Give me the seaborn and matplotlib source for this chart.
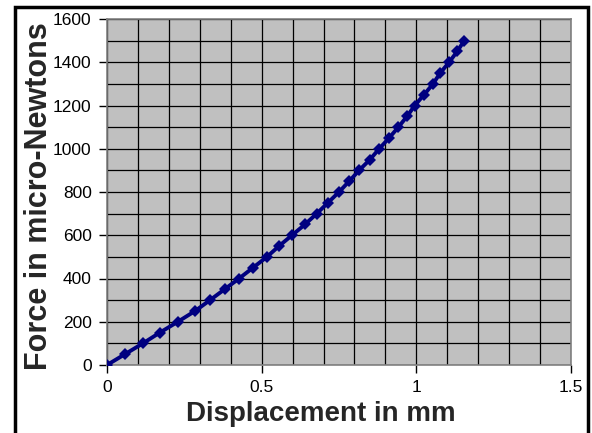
import numpy as np
import pandas as pd
import seaborn as sns
import matplotlib
matplotlib.use("Agg")
from matplotlib import pyplot as plt
from matplotlib.patches import Rectangle
from matplotlib.ticker import MultipleLocator

# datos
desplazamiento = [0, 0.058, 0.116, 0.171, 0.229, 0.285, 0.333, 0.380, 0.427, 0.472,
                  0.517, 0.556, 0.598, 0.640, 0.678, 0.714, 0.750, 0.783, 0.815, 0.850,
                  0.880, 0.912, 0.942, 0.970, 0.995, 1.025, 1.054, 1.077, 1.106, 1.132,
                  1.155]
fuerza = [0, 50, 100, 150, 200, 250, 300, 350, 400, 450,
          500, 550, 600, 650, 700, 750, 800, 850, 900, 950,
          1000, 1050, 1100, 1150, 1200, 1250, 1300, 1350, 1400, 1450,
          1500]

df = pd.DataFrame({"x": desplazamiento, "y": fuerza})

sns.set_style("white")
plt.rcParams["font.family"] = ["Liberation Sans", "DejaVu Sans"]

fig = plt.figure(figsize=(5.92, 4.33), dpi=100)
ax = fig.add_axes([107 / 592, 1 - 365 / 433, (571 - 107) / 592, (365 - 19) / 433])
ax.set_facecolor("#c0c0c0")

sns.lineplot(data=df, x="x", y="y", ax=ax, color="#000080", linewidth=2.8,
             marker="D", markersize=6, markeredgewidth=0, zorder=5)

ax.set_xlim(0, 1.5)
ax.set_ylim(0, 1600)
ax.xaxis.set_major_locator(MultipleLocator(0.5))
ax.xaxis.set_minor_locator(MultipleLocator(0.1))
ax.yaxis.set_major_locator(MultipleLocator(200))
ax.yaxis.set_minor_locator(MultipleLocator(100))
ax.set_xticks([0, 0.5, 1, 1.5])
ax.set_xticklabels(["0", "0.5", "1", "1.5"])

ax.grid(which="both", color="black", linewidth=0.9)
ax.set_axisbelow(True)
ax.tick_params(axis="both", which="major", direction="out", length=6, width=1,
               color="black", labelsize=12.5, pad=5, bottom=True, left=True,
               labelcolor="black")
ax.tick_params(axis="both", which="minor", length=0)

for lado in ["top", "right", "left", "bottom"]:
    ax.spines[lado].set_color("#808080")
    ax.spines[lado].set_linewidth(1.2)

ax.set_xlabel("Displacement in mm", fontsize=20, fontweight="bold")
ax.set_ylabel("Force in micro-Newtons", fontsize=22, fontweight="bold")
ax.xaxis.set_label_coords(0.461, -0.105)
ax.yaxis.set_label_coords(-0.115, 0.488)

# marco negro alrededor de la figura
fig.patches.append(Rectangle((15 / 592, -0.05), (588 - 15) / 592, 1.05 - 7 / 433,
                             transform=fig.transFigure, fill=False,
                             edgecolor="black", linewidth=2.5))

fig.savefig("out.png", dpi=100)
